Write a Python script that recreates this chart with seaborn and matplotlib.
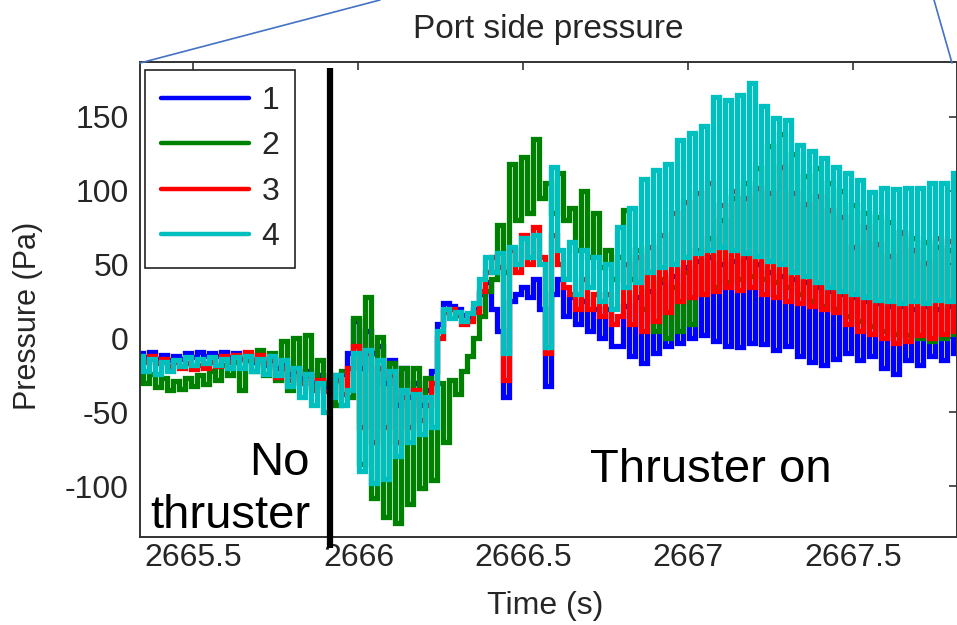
import numpy as np
import pandas as pd
import matplotlib
matplotlib.use('Agg')
import matplotlib.pyplot as plt
import matplotlib.transforms as mtransforms
from matplotlib.lines import Line2D
import seaborn as sns

# ---- data ----
t_start = 2665.338          # first sample time (s)
t_step = 0.01818            # sample spacing (s)

sensor1 = [-10,-13,-9,-14,-11,-15,-12,-14,-10,-13,-9,-12,-10,-12,-9,-13,-10,-14,-12,-16,-14,-18,-15,-20,-17,-24,-20,-27,-22,-30,-25,-33,
           -28,-26,-24,-10,12,-20,5,-10,-5,-30,-15,-45,-20,-40,-30,-45,-35,-22,10,24,
           22,20,16,14,20,30,38,20,5,-40,25,30,35,28,40,20,-32,30,40,15,28,10,25,5,20,0,20,-5,
           -5,22,-12,28,-17,32,-10,38,-5,42,-3,48,0,52,2,55,-2,50,-5,52,-6,55,-3,50,-4,45,-8,42,-5,40,
           -12,38,-16,35,-18,32,-14,30,-10,28,-15,25,-12,24,-20,22,-24,22,-15,20,-18,22,-12,20,-15,22,-10]
sensor2 = [-20,-30,-24,-33,-27,-35,-29,-34,-27,-32,-25,-31,-22,-28,-18,-25,-16,-35,-15,-22,-8,-25,-10,-28,-2,-35,0,-30,2,-33,-15,-30,
           -25,-45,-22,-40,14,-85,28,-108,1,-121,-17,-125,-20,-112,-20,-101,-27,-96,-30,-70,
           -28,-38,-22,-12,0,15,32,40,77,45,118,80,123,85,135,95,105,85,112,80,88,60,100,55,85,48,60,40,
           55,87,40,60,20,45,5,40,0,35,5,45,10,60,30,68,35,80,38,95,40,105,42,115,40,130,38,138,35,125,
           30,110,25,115,22,105,20,100,15,90,12,85,8,82,5,79,3,72,2,68,0,65,-2,62,0,60,3]
sensor3 = [-13,-16,-12,-17,-14,-19,-16,-20,-17,-21,-18,-20,-16,-19,-12,-16,-11,-14,-9,-15,-11,-17,-14,-26,-20,-28,-22,-30,-25,-35,-28,-36,
           -30,-28,-38,-20,-5,-60,-10,-70,-20,-60,-25,-70,-40,-60,-35,-55,-45,-30,0,18,
           20,16,10,12,18,32,45,55,48,-28,60,45,70,50,75,55,-10,70,50,35,30,20,40,20,30,15,30,10,
           15,50,10,55,5,62,12,70,18,85,25,92,28,98,30,105,32,90,35,100,33,95,35,102,30,98,28,116,25,98,
           24,91,22,96,20,87,18,82,10,62,5,75,3,64,0,56,-3,71,-2,60,2,51,0,68,3,66,5]
sensor4 = [-12,-22,-14,-24,-16,-22,-15,-19,-13,-18,-14,-17,-13,-18,-14,-20,-13,-20,-12,-22,-14,-24,-12,-25,-15,-32,-20,-40,-24,-45,-30,-50,
           -40,-25,-45,-35,-10,-90,-8,-98,-15,-95,-22,-80,-35,-70,-38,-65,-40,-60,5,20,
           14,18,12,17,24,40,55,45,58,-10,62,50,68,55,70,50,-6,116,60,40,65,30,60,35,55,25,50,20,
           75,35,88,38,108,45,114,48,118,50,134,55,139,58,144,60,163,62,161,60,165,58,173,56,157,52,149,50,148,45,
           131,42,127,38,122,35,116,32,112,30,107,28,99,26,102,25,101,24,102,25,102,24,105,26,105,25,112]

sensors = ['1', '2', '3', '4']
colors = ['#0000ff', '#008000', '#ff0000', '#00bfbf']
xticks = [2665.5, 2666, 2666.5, 2667, 2667.5]
xtick_labels = ['2665.5', '2666', '2666.5', '2667', '2667.5']
yticks = [-100, -50, 0, 50, 100, 150]
ytick_labels = ['-100', '-50', '0', '50', '100', '150']
thruster_time = 2665.914

# ---- style ----
sns.set_style('white')
plt.rcParams['font.family'] = ['Liberation Sans', 'DejaVu Sans']

n = len(sensor1)
time = t_start + t_step * np.arange(n)
df = pd.DataFrame({
    'Time': np.tile(time, 4),
    'Pressure': np.concatenate([sensor1, sensor2, sensor3, sensor4]),
    'Sensor': np.repeat(sensors, n),
})

W, H = 957, 625
fig = plt.figure(figsize=(W / 100, H / 100), dpi=100)
ax = fig.add_axes([140 / W, (H - 537) / H, 817 / W, 475 / H])

sns.lineplot(data=df, x='Time', y='Pressure', hue='Sensor', hue_order=sensors,
             palette=colors, estimator=None, sort=False, linewidth=3.8,
             drawstyle='steps-mid', legend=False, ax=ax)
for ln in ax.get_lines():
    ln.set_solid_joinstyle('miter')
    ln.set_solid_capstyle('butt')

ax.set_xlim(2665.338, 2667.814)
ax.set_ylim(-134.5, 187)
ax.set_xticks(xticks)
ax.set_xticklabels(xtick_labels)
ax.set_yticks(yticks)
ax.set_yticklabels(ytick_labels)
ax.tick_params(direction='in', length=6, width=1.2, top=True, right=True,
               labelsize=23, labelcolor='#262626', color='#333333')
ax.tick_params(axis='x', pad=4)
ax.tick_params(axis='y', pad=8)
for s in ax.spines.values():
    s.set_color('#333333')
    s.set_linewidth(1.4)

ax.set_title('Port side pressure', fontsize=24, pad=17, color='#262626')
ax.set_xlabel('Time (s)', fontsize=23, color='#262626', va='baseline')
ax.xaxis.set_label_coords(0.496, (537 - 614) / 475)
ax.set_ylabel('Pressure (Pa)', fontsize=22, color='#262626', va='center', ha='center')
ax.yaxis.set_label_coords((28 - 140) / 817, (537 - 316) / 475)

handles = [Line2D([0], [0], color=c, lw=3.2) for c in colors]
leg = ax.legend(handles, sensors, loc='upper left', bbox_to_anchor=(0.006, 0.983),
                fontsize=23, handlelength=2.75, handletextpad=0.4, labelspacing=0.48,
                borderpad=0.5, frameon=True, fancybox=False, framealpha=1,
                edgecolor='#222222', borderaxespad=0)
leg.get_frame().set_linewidth(1.2)

# thruster-on marker line
trans = mtransforms.blended_transform_factory(ax.transData, ax.transAxes)
ax.plot([thruster_time, thruster_time], [-0.023, 0.987], transform=trans,
        color='black', lw=4.5, clip_on=False, solid_capstyle='butt', zorder=5)

# callout lines
fig.add_artist(Line2D([140 / W, 380 / W], [1 - 63 / H, 1.0], transform=fig.transFigure,
                      color='#4472c4', lw=1.2))
fig.add_artist(Line2D([952 / W, 934 / W], [1 - 63 / H, 1.0], transform=fig.transFigure,
                      color='#4472c4', lw=1.2))

# annotations
fig.text(310 / W, 1 - 475 / H, 'No', ha='right', va='baseline', fontsize=34, color='black')
fig.text(310 / W, 1 - 528 / H, 'thruster', ha='right', va='baseline', fontsize=34, color='black')
fig.text(590 / W, 1 - 482 / H, 'Thruster on', ha='left', va='baseline', fontsize=34, color='black')

fig.savefig('out.png', dpi=100)
